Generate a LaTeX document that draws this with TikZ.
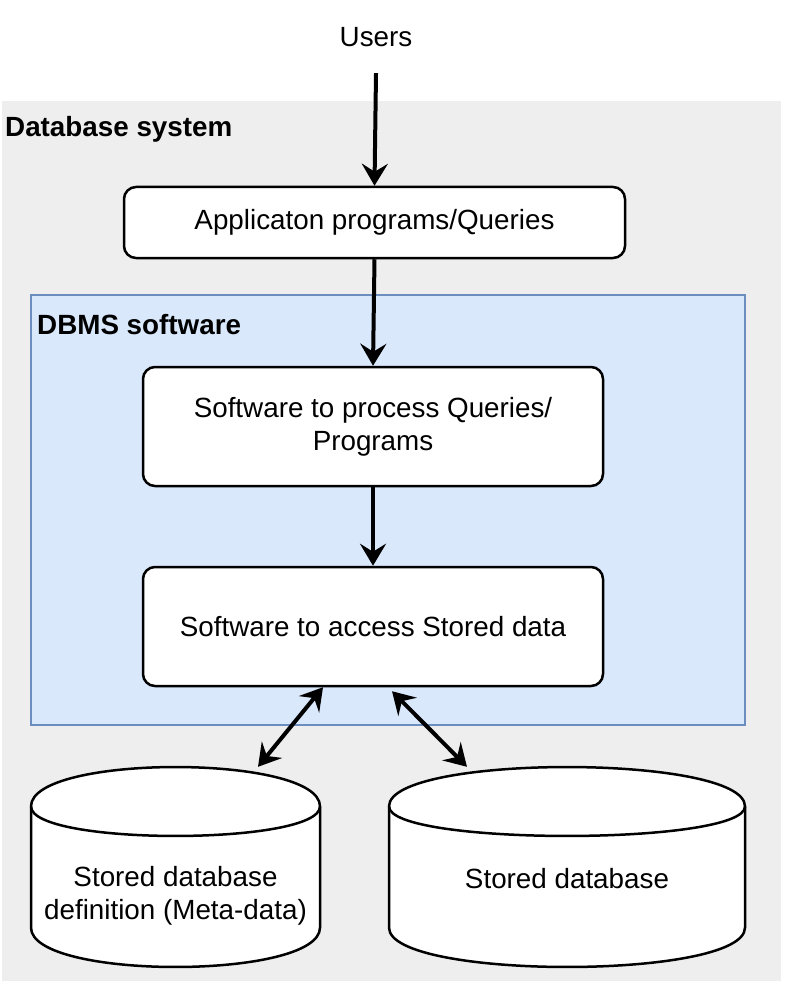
\documentclass[tikz,border=0pt]{standalone}
\usepackage{fontspec}
\setmainfont{Liberation Sans}
\usetikzlibrary{arrows.meta}
\definecolor{sysgray}{HTML}{EEEEEE}
\definecolor{dbmsfill}{HTML}{DAE8FC}
\definecolor{dbmsline}{HTML}{6C8EBF}
\begin{document}
\begin{tikzpicture}[x=1pt,y=-1pt,
  txt/.style={font=\fontsize{27.8}{33}\selectfont, align=center, inner sep=0pt},
  grouplabel/.style={font=\fontsize{27.8}{33}\selectfont\bfseries, anchor=west, inner sep=0pt},
  procbox/.style={txt, draw, line width=2.5pt, fill=white, rounded corners=12pt},
  cylarea/.style={inner sep=0pt, minimum height=200pt},
  cylline/.style={draw, line width=2.5pt, fill=white},
  tipstyle/.tip={Stealth[length=22pt,width=26pt,inset=8pt]},
  flow/.style={line width=4pt, -tipstyle},
  both/.style={line width=4pt, tipstyle-tipstyle}]
\useasboundingbox (0,0) rectangle (784,984);
% containers
\fill[sysgray] (2,101) rectangle (781,981);
\filldraw[fill=dbmsfill, draw=dbmsline, line width=2pt] (31,295) rectangle (745,725);
\node[grouplabel] (syslabel) at (5,129) {Database system};
\node[grouplabel] (dbmslabel) at (37,325) {DBMS software};
% nodes
\node[txt, minimum height=72pt] (users) at (376,37) {Users};
\node[procbox, minimum width=501pt, minimum height=71pt] (app) at (374.5,222.5) {Applicaton programs/Queries};
\node[procbox, minimum width=460pt, minimum height=119pt] (process) at (373,426.5) {Software to process Queries/\\Programs};
\node[procbox, minimum width=460pt, minimum height=119pt] (access) at (373,626.5) {Software to access Stored data};
% cylinders
\path[cylline] (31,806.4) .. controls (31,753.9) and (320,753.9) .. (320,806.4)
  -- (320,927.6) .. controls (320,980.1) and (31,980.1) .. (31,927.6) -- cycle;
\draw[line width=2.5pt] (31,806.4) .. controls (31,845.8) and (320,845.8) .. (320,806.4);
\path[cylline] (389,806.4) .. controls (389,753.9) and (745,753.9) .. (745,806.4)
  -- (745,927.6) .. controls (745,980.1) and (389,980.1) .. (389,927.6) -- cycle;
\draw[line width=2.5pt] (389,806.4) .. controls (389,845.8) and (745,845.8) .. (745,806.4);
\node[cylarea, minimum width=289pt] (db1) at (175.5,867) {};
\node[cylarea, minimum width=356pt] (db2) at (567,867) {};
\node[txt, yshift=-29pt] (db1text) at (db1.center) {Stored database\\definition (Meta-data)};
\node[txt, yshift=-12pt] (db2text) at (db2.center) {Stored database};
% connectors
\draw[flow] (users.south) -- (app.north);
\draw[flow] (app.south) -- (process.north);
\draw[flow] (process.south) -- (access.north);
\draw[both] ([xshift=-50pt]access.south) -- ([xshift=82.5pt]db1.north);
\draw[both] ([xshift=19pt,yshift=-4pt]access.south) -- ([xshift=-100pt]db2.north);
\end{tikzpicture}
\end{document}
